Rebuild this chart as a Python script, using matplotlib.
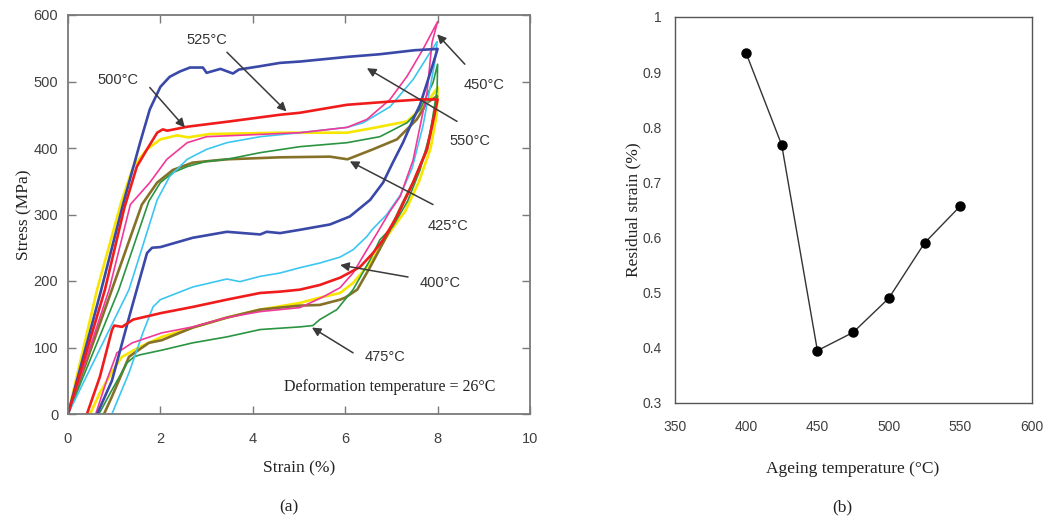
import matplotlib
matplotlib.use("Agg")
import matplotlib.pyplot as plt
from matplotlib.ticker import FuncFormatter, MultipleLocator

# ---------------- Panel (a) data: stress-strain loops (strain %, stress MPa) ----------------
strain_blue = [0, 0.72, 1.19, 1.56, 1.77, 2.0, 2.2, 2.42, 2.64, 2.92, 3.0, 3.3, 3.57, 3.7, 4.16, 4.59, 5.02, 6.04, 6.75, 7.5, 8.0,
               8.0, 7.85, 7.62, 7.47, 7.25, 7.03, 6.82, 6.54, 6.1, 5.67, 5.02, 4.59, 4.3, 4.16, 3.44, 2.7, 2.0, 1.82, 1.71, 1.34, 0.95, 0.63]
stress_blue = [0, 187, 315, 408, 458, 492, 507, 515, 521, 521, 513, 519, 512, 518, 523, 528, 530, 537, 541, 547, 549,
               549, 515, 465, 443, 408, 378, 348, 322, 297, 285, 277, 272, 274, 270, 274, 265, 251, 250, 242, 150, 50, 0]

strain_red = [0, 0.8, 1.22, 1.49, 1.71, 1.93, 2.05, 2.15, 2.58, 3.5, 4.59, 5.02, 6.04, 7.0, 7.62, 8.0,
              8.0, 7.9, 7.77, 7.47, 7.12, 6.82, 6.6, 6.32, 5.89, 5.45, 5.02, 4.59, 4.16, 3.44, 2.7, 2.03, 1.41, 1.17, 1.0, 0.95, 0.69, 0.41]
stress_red = [0, 187, 310, 372, 398, 423, 428, 426, 432, 440, 450, 453, 465, 470, 473, 473,
              473, 440, 398, 348, 297, 262, 242, 221, 205, 194, 187, 184, 182, 172, 161, 152, 142, 131, 133, 126, 56, 0]

strain_yellow = [0, 0.63, 1.15, 1.41, 1.71, 2.0, 2.36, 2.6, 3.07, 4.59, 6.04, 6.6, 7.34, 7.77, 8.0,
                 8.0, 7.98, 7.85, 7.6, 7.3, 6.9, 6.54, 6.17, 5.89, 5.45, 5.02, 4.16, 3.44, 2.7, 2.03, 1.56, 1.17, 1.02, 0.69, 0.48]
stress_yellow = [0, 187, 318, 372, 398, 413, 419, 416, 421, 423, 423, 430, 440, 468, 491,
                 491, 450, 400, 350, 305, 267, 227, 197, 182, 175, 167, 157, 145, 130, 116, 101, 86, 71, 32, 0]

strain_pink = [0, 0.89, 1.35, 1.77, 2.14, 2.58, 3.0, 4.0, 5.02, 6.04, 6.47, 6.97, 7.34, 7.68, 8.0,
               8.0, 7.88, 7.77, 7.47, 7.19, 6.97, 6.69, 6.47, 6.17, 5.89, 5.52, 5.02, 4.16, 3.44, 2.7, 2.03, 1.39, 1.06, 0.84, 0.6]
stress_pink = [0, 187, 315, 348, 383, 408, 417, 420, 423, 431, 443, 473, 508, 548, 590,
               590, 559, 483, 382, 327, 305, 272, 247, 212, 190, 176, 160, 154, 145, 131, 122, 107, 92, 51, 0]

strain_cyan = [0, 1.32, 1.93, 2.2, 2.58, 3.0, 3.44, 4.16, 5.02, 6.04, 6.39, 6.97, 7.47, 7.84, 7.99,
               7.99, 7.94, 7.68, 7.45, 7.2, 6.9, 6.58, 6.47, 6.17, 5.89, 5.45, 5.02, 4.59, 4.16, 3.72, 3.44, 2.7, 2.0, 1.84, 1.62, 1.32, 0.95]
stress_cyan = [0, 187, 322, 357, 383, 398, 408, 417, 423, 431, 438, 462, 503, 544, 560,
               560, 529, 432, 370, 330, 300, 277, 267, 247, 236, 227, 220, 212, 207, 199, 203, 191, 172, 161, 122, 62, 0]

strain_green = [0, 1.1, 1.75, 2.0, 2.27, 2.58, 3.0, 3.44, 4.16, 5.02, 6.04, 6.75, 7.34, 7.62, 7.9, 8.0,
                8.0, 7.99, 7.84, 7.62, 7.35, 7.03, 6.75, 6.54, 6.17, 5.82, 5.45, 5.3, 5.02, 4.16, 3.44, 2.7, 2.03, 1.56, 1.43, 1.28, 0.95, 0.67]
stress_green = [0, 187, 320, 348, 363, 372, 380, 383, 393, 402, 408, 417, 438, 458, 498, 526,
                526, 488, 423, 367, 320, 282, 262, 232, 187, 157, 142, 133, 131, 127, 116, 107, 96, 89, 86, 77, 36, 0]

strain_olive = [0, 0.95, 1.6, 1.93, 2.27, 2.7, 3.44, 4.59, 5.67, 6.05, 6.6, 7.12, 7.55, 7.77, 7.99,
                7.99, 7.95, 7.77, 7.47, 7.25, 6.97, 6.54, 6.26, 6.0, 5.89, 5.45, 5.02, 4.16, 3.44, 2.7, 2.03, 1.75, 1.32, 0.95, 0.78]
stress_olive = [0, 187, 315, 348, 367, 378, 383, 386, 387, 383, 398, 413, 443, 468, 478,
                478, 458, 398, 348, 318, 277, 221, 187, 175, 172, 164, 163, 157, 145, 130, 111, 107, 86, 26, 0]

# annotation labels (text, label position, arrow tail, arrow head) in data units
label_texts = ["525°C", "500°C", "450°C", "550°C", "425°C", "400°C", "475°C"]
label_pos = [(3.01, 563), (1.08, 503), (9.0, 494), (8.7, 410), (8.22, 283), (8.05, 197), (6.86, 86)]
arrow_tail = [(3.44, 544), (1.77, 491), (8.59, 526), (8.42, 440), (7.9, 315), (7.36, 206), (6.17, 92)]
arrow_head = [(4.73, 455), (2.53, 431), (7.99, 571), (6.47, 520), (6.1, 380), (5.89, 224), (5.28, 130)]

# ---------------- Panel (b) data ----------------
ageing_temp = [400, 425, 450, 475, 500, 525, 550]
residual_strain = [0.935, 0.768, 0.395, 0.428, 0.490, 0.590, 0.657]

fig = plt.figure(figsize=(10.48, 5.22), dpi=100)

serif = ["Liberation Serif", "DejaVu Serif"]
sans = ["Liberation Sans", "DejaVu Sans"]
tick_col = "#404040"
spine_col = "#7a7a7a"

# ---------------- Panel (a) ----------------
ax = fig.add_axes([68 / 1048, 108 / 522, 462 / 1048, 399 / 522])
curves = [
    (strain_yellow, stress_yellow, "#f7e600"),
    (strain_olive, stress_olive, "#857228"),
    (strain_green, stress_green, "#2b9440"),
    (strain_cyan, stress_cyan, "#3cc6f2"),
    (strain_pink, stress_pink, "#f2389a"),
    (strain_blue, stress_blue, "#3a48a8"),
    (strain_red, stress_red, "#f01c1c"),
]
for xs, ys, c in curves:
    lw = 1.9 if c in ("#f7e600", "#f01c1c", "#3a48a8", "#857228") else 1.2
    ax.plot(xs, ys, color=c, lw=lw, solid_joinstyle="round")

ax.set_xlim(0, 10)
ax.set_ylim(0, 600)
ax.xaxis.set_major_locator(MultipleLocator(2))
ax.yaxis.set_major_locator(MultipleLocator(100))
ax.tick_params(direction="in", length=6, width=1, colors=spine_col, top=True, right=True,
               labelcolor=tick_col, labelsize=10.5)
ax.tick_params(axis="x", pad=13)
ax.tick_params(axis="y", pad=7)
for lab in ax.get_xticklabels() + ax.get_yticklabels():
    lab.set_family(sans)
for s in ax.spines.values():
    s.set_color(spine_col)
    s.set_linewidth(1.3)
ax.set_xlabel("Strain (%)", family=serif, fontsize=12.5, color="#222222", labelpad=10)
ax.set_ylabel("Stress (MPa)", family=serif, fontsize=12.5, color="#222222", labelpad=1)

for t, p, tail, head in zip(label_texts, label_pos, arrow_tail, arrow_head):
    ax.text(p[0], p[1], t, family=sans, fontsize=10.5, color="#333333",
            ha="center", va="center", clip_on=False)
    ax.annotate("", xy=head, xytext=tail,
                arrowprops=dict(arrowstyle="-|>", color="#3a3a3a", lw=1.1,
                                mutation_scale=13, shrinkA=0, shrinkB=0),
                annotation_clip=False)

ax.text(6.97, 41, "Deformation temperature = 26°C", family=serif, fontsize=11.5,
        color="#222222", ha="center", va="center")

fig.text(289 / 1048, 1 - 507 / 522, "(a)", family=serif, fontsize=12.5, color="#222222",
         ha="center", va="center")

# ---------------- Panel (b) ----------------
bx = fig.add_axes([674.6 / 1048, 119 / 522, 357 / 1048, 386 / 522])
bx.plot(ageing_temp, residual_strain, color="#333333", lw=1.0, marker="o",
        markersize=6.5, markerfacecolor="black", markeredgecolor="black")
bx.set_xlim(350, 600)
bx.set_ylim(0.3, 1.0)
bx.xaxis.set_major_locator(MultipleLocator(50))
bx.yaxis.set_major_locator(MultipleLocator(0.1))
bx.yaxis.set_major_formatter(FuncFormatter(lambda v, p: "{:g}".format(round(v, 2))))
bx.tick_params(length=0, labelcolor=tick_col, labelsize=10)
bx.tick_params(axis="x", pad=12)
bx.tick_params(axis="y", pad=9)
for lab in bx.get_xticklabels() + bx.get_yticklabels():
    lab.set_family(sans)
for s in bx.spines.values():
    s.set_color("#555555")
    s.set_linewidth(1.0)
bx.set_xlabel("Ageing temperature (°C)", family=serif, fontsize=12.5, color="#222222", labelpad=20)
bx.set_ylabel("Residual strain (%)", family=serif, fontsize=12.5, color="#222222", labelpad=1)

fig.text(842 / 1048, 1 - 507 / 522, "(b)", family=serif, fontsize=12.5, color="#222222",
         ha="center", va="center")

fig.savefig("out.png", dpi=100, facecolor="white")
